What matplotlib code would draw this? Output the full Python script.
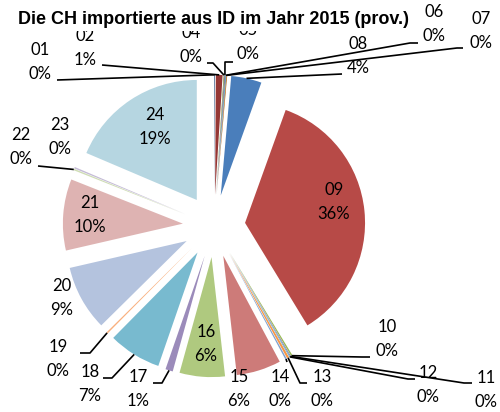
import numpy as np
import matplotlib
matplotlib.use("Agg")
import matplotlib.pyplot as plt

# Kapitel (HS-2) und Anteile am Import, in %
categories = ['01', '02', '04', '05', '06', '07', '08', '09', '10', '11', '12',
              '13', '14', '15', '16', '17', '18', '19', '20', '21', '22', '23', '24']
shares = [0.1, 0.9, 0.1, 0.1, 0.1, 0.1, 4.1, 35.8, 0.2, 0.1, 0.1,
          0.3, 0.2, 6.0, 6.1, 1.0, 7.1, 0.2, 8.8, 9.6, 0.2, 0.2, 18.6]

title = 'Die CH importierte aus ID im Jahr 2015 (prov.)'

# Excel-Farben: dunkel, normal, hell, heller
colors = ['#385D8A', '#953735', '#77933C', '#5F497A', '#31859C', '#B65708',
          '#4A7EBB', '#B74A47', '#98B954', '#7D60A0', '#46AAC5', '#F79646',
          '#7EA0CF', '#CD7B79', '#AFC97F', '#9B8BBA', '#78BACF', '#F9B07E',
          '#B4C3DE', '#DEB3B2', '#CFDDB5', '#C4BBD6', '#B6D6E1']

# Bildgeometrie (Pixel)
W, H = 500, 412
CX, CY, R = 214, 226, 120
EXPLODE = 0.26

# Position der Beschriftung (Mitte des Blocks) in Pixeln
label_pos = {
    '01': (40, 62), '02': (85, 48), '04': (191, 45), '05': (248, 42),
    '06': (434, 24), '07': (481, 31), '08': (358, 56), '09': (334, 202),
    '10': (387, 339), '11': (486, 390), '12': (428, 385), '13': (322, 389),
    '14': (280, 389), '15': (239, 389), '16': (206, 344), '17': (138, 389),
    '18': (90, 384), '19': (58, 359), '20': (62, 298), '21': (90, 215),
    '22': (21, 147), '23': (60, 137), '24': (155, 127),
}
# Knickpunkte der Führungslinien auf der Beschriftungsseite (Pixel)
leader_pts = {
    '01': [(57, 80)], '02': [(102, 65)],
    '04': [(207, 63), (213, 63)], '05': [(233, 62), (225, 62)],
    '06': [(418, 43), (410, 43)], '07': [(463, 48), (457, 48)],
    '08': [(342, 74)],
    '10': [(370, 357), (362, 357)], '11': [(472, 383), (464, 383)],
    '12': [(415, 379), (408, 379)], '13': [(307, 383), (300, 383)],
    '14': [(287, 362)],
    '17': [(153, 383), (162, 383)], '18': [(103, 378), (112, 378)],
    '19': [(80, 353), (90, 353)], '22': [(38, 166)],
}


def px(x, y):
    return (x - CX) / R, (CY - y) / R


fig = plt.figure(figsize=(W / 100, H / 100), dpi=100)
ax = fig.add_axes([0, 0, 1, 1])

ax.pie(shares, startangle=90, counterclock=False, explode=[EXPLODE] * len(shares),
       colors=colors, radius=1, center=(0, 0), wedgeprops=dict(linewidth=0))
ax.set_xlim(-CX / R, (W - CX) / R)
ax.set_ylim((CY - H) / R, CY / R)
ax.set_aspect('equal')
ax.set_axis_off()

total = sum(shares)
cum = np.cumsum([0] + shares[:-1])
font = dict(family='Lato', fontsize=12, color='black')
for i, cat in enumerate(categories):
    frac = (cum[i] + shares[i] / 2) / total
    ang = np.deg2rad(90 - 360 * frac)
    anchor = ((1 + EXPLODE) * np.cos(ang), (1 + EXPLODE) * np.sin(ang))
    lx, ly = label_pos[cat]
    pct = '%d%%' % round(shares[i] / total * 100)
    ax.text(*px(lx, ly - 12), cat, ha='center', va='center', **font)
    ax.text(*px(lx, ly + 12), pct, ha='center', va='center', **font)
    if cat in leader_pts:
        pts = [px(x, y) for x, y in leader_pts[cat]] + [anchor]
        xs, ys = zip(*pts)
        ax.plot(xs, ys, color='black', lw=1.2, solid_capstyle='butt')

# Titel mit weissem Hintergrund verdeckt die oberen Beschriftungen teilweise
fig.text(214 / W, 1 - 20 / H, title, ha='center', va='center',
         family='Liberation Sans', fontweight='bold', fontsize=13, zorder=10,
         bbox=dict(facecolor='white', edgecolor='none', pad=2.0))

fig.savefig('out.png', dpi=100)
